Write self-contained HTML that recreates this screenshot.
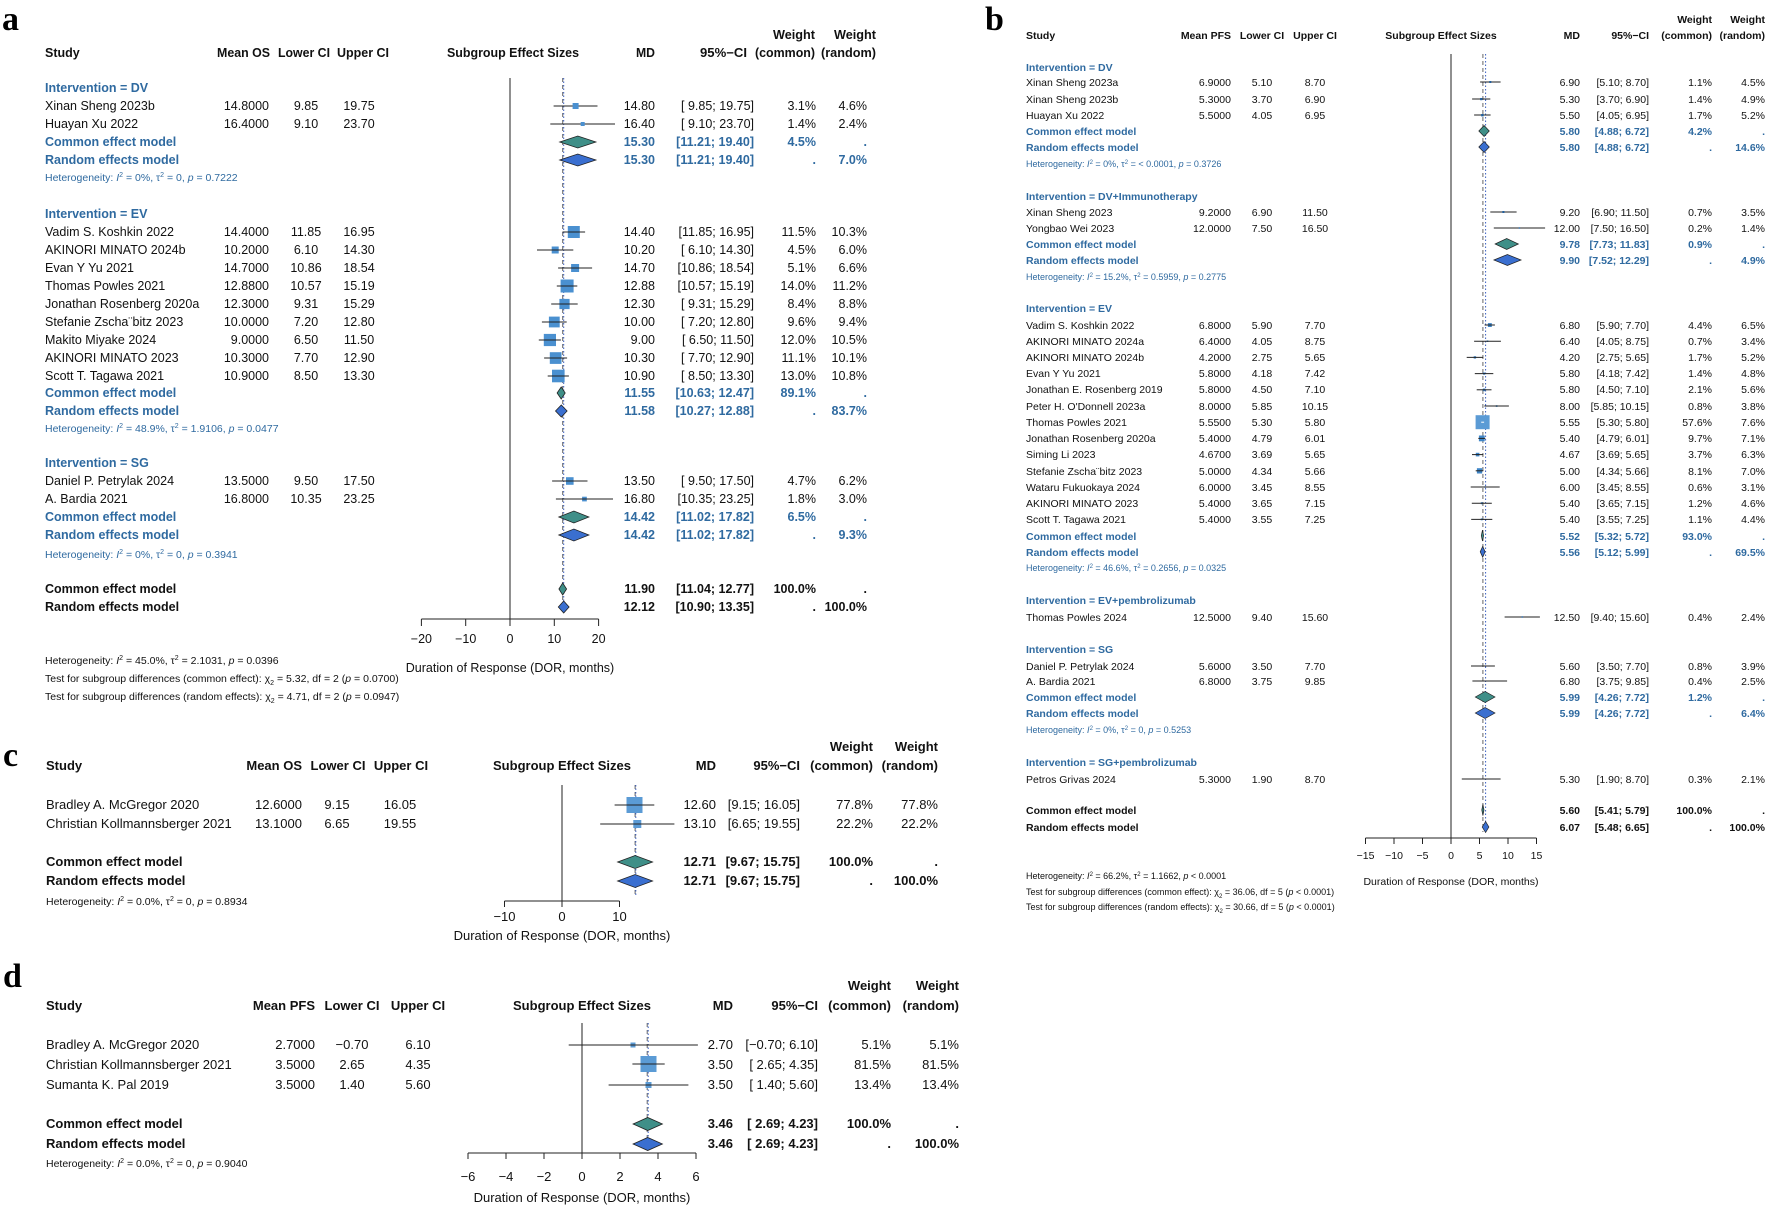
<!DOCTYPE html>
<html><head><meta charset="utf-8">
<style>
html,body{margin:0;padding:0;background:#fff;}
svg{display:block;font-family:"Liberation Sans",Arial,sans-serif;}
.a{font-size:12.5px;fill:#111;}
.b{font-size:10.5px;fill:#111;}
.c{font-size:13px;fill:#111;}
.bl{fill:#2f6aa0;}
.bo{font-weight:bold;}
.hs{font-size:10.5px;fill:#2f6aa0;}
.hsb{font-size:9px;fill:#2f6aa0;}
.hk{font-size:10.5px;fill:#111;}
.hkb{font-size:9px;fill:#111;}
.e{text-anchor:end;}
.m{text-anchor:middle;}
.L{font-family:"Liberation Serif",serif;font-weight:bold;font-size:34px;fill:#000;}
</style></head><body>
<svg width="1772" height="1211" viewBox="0 0 1772 1211" xmlns="http://www.w3.org/2000/svg">
<rect width="1772" height="1211" fill="#fff"/>

<!-- ================= PANEL A ================= -->
<text class="L" x="2" y="30">a</text>
<g class="a bo">
<text x="45" y="57">Study</text>
<text x="217" y="57" textLength="53" lengthAdjust="spacingAndGlyphs">Mean OS</text>
<text x="278" y="57" textLength="52" lengthAdjust="spacingAndGlyphs">Lower CI</text>
<text x="337" y="57" textLength="52" lengthAdjust="spacingAndGlyphs">Upper CI</text>
<text x="447" y="57" textLength="132" lengthAdjust="spacingAndGlyphs">Subgroup Effect Sizes</text>
<text x="636" y="57" textLength="19" lengthAdjust="spacingAndGlyphs">MD</text>
<text x="700" y="57" textLength="47" lengthAdjust="spacingAndGlyphs">95%−CI</text>
<text x="773" y="39" textLength="42" lengthAdjust="spacingAndGlyphs">Weight</text><text x="755" y="57" textLength="60" lengthAdjust="spacingAndGlyphs">(common)</text>
<text x="834" y="39" textLength="42" lengthAdjust="spacingAndGlyphs">Weight</text><text x="821" y="57" textLength="55" lengthAdjust="spacingAndGlyphs">(random)</text>
</g>
<!-- axes a -->
<line x1="510" y1="78" x2="510" y2="619" stroke="#222" stroke-width="1"/>
<line x1="562.7" y1="78" x2="562.7" y2="612" stroke="#666" stroke-width="1" stroke-dasharray="4,3"/>
<line x1="563.7" y1="78" x2="563.7" y2="612" stroke="#3b5fc0" stroke-width="1" stroke-dasharray="1.5,2"/>
<line x1="421.4" y1="619" x2="598.6" y2="619" stroke="#222"/>
<g stroke="#222"><line x1="421.4" y1="619" x2="421.4" y2="626"/><line x1="465.7" y1="619" x2="465.7" y2="626"/><line x1="510" y1="619" x2="510" y2="626"/><line x1="554.3" y1="619" x2="554.3" y2="626"/><line x1="598.6" y1="619" x2="598.6" y2="626"/></g>
<g class="a m"><text x="421.4" y="643">−20</text><text x="465.7" y="643">−10</text><text x="510" y="643">0</text><text x="554.3" y="643">10</text><text x="598.6" y="643">20</text></g>
<text class="a m" x="510" y="672">Duration of Response (DOR, months)</text>

<!-- DV -->
<text class="a bl bo" x="45" y="92">Intervention = DV</text>
<g class="a">
<text x="45" y="110">Xinan Sheng 2023b</text><text class="e" x="269" y="110">14.8000</text><text class="m" x="306" y="110">9.85</text><text class="m" x="359" y="110">19.75</text><text class="e" x="655" y="110">14.80</text><text class="e" x="754" y="110">[ 9.85; 19.75]</text><text class="e" x="816" y="110">3.1%</text><text class="e" x="867" y="110">4.6%</text>
<text x="45" y="128">Huayan Xu 2022</text><text class="e" x="269" y="128">16.4000</text><text class="m" x="306" y="128">9.10</text><text class="m" x="359" y="128">23.70</text><text class="e" x="655" y="128">16.40</text><text class="e" x="754" y="128">[ 9.10; 23.70]</text><text class="e" x="816" y="128">1.4%</text><text class="e" x="867" y="128">2.4%</text>
</g>
<g class="a bl bo">
<text x="45" y="146">Common effect model</text><text class="e" x="655" y="146">15.30</text><text class="e" x="754" y="146">[11.21; 19.40]</text><text class="e" x="816" y="146">4.5%</text><text class="e" x="867" y="146">.</text>
<text x="45" y="164">Random effects model</text><text class="e" x="655" y="164">15.30</text><text class="e" x="754" y="164">[11.21; 19.40]</text><text class="e" x="816" y="164">.</text><text class="e" x="867" y="164">7.0%</text>
</g>
<text class="hs" x="45" y="181">Heterogeneity: <tspan font-style="italic">I</tspan><tspan dy="-4" font-size="7">2</tspan><tspan dy="4"> = 0%, τ</tspan><tspan dy="-4" font-size="7">2</tspan><tspan dy="4"> = 0, </tspan><tspan font-style="italic">p</tspan> = 0.7222</text>
<g stroke="#222">
<line x1="553.6" y1="106" x2="597.5" y2="106"/><rect x="572.6" y="103" width="6" height="6" fill="#4a90d0" stroke="none"/>
<line x1="550.3" y1="124" x2="615" y2="124"/><rect x="580.7" y="122" width="4" height="4" fill="#4a90d0" stroke="none"/>
</g>
<polygon points="559.7,142 577.8,136 595.9,142 577.8,148" fill="#3f8f88" stroke="#222" stroke-width=".8"/>
<polygon points="559.7,160 577.8,154 595.9,160 577.8,166" fill="#3a6fd0" stroke="#222" stroke-width=".8"/>

<!-- EV -->
<text class="a bl bo" x="45" y="218">Intervention = EV</text>
<g class="a">
<text x="45" y="236">Vadim S. Koshkin 2022</text><text class="e" x="269" y="236">14.4000</text><text class="m" x="306" y="236">11.85</text><text class="m" x="359" y="236">16.95</text><text class="e" x="655" y="236">14.40</text><text class="e" x="754" y="236">[11.85; 16.95]</text><text class="e" x="816" y="236">11.5%</text><text class="e" x="867" y="236">10.3%</text>
<text x="45" y="254">AKINORI MINATO 2024b</text><text class="e" x="269" y="254">10.2000</text><text class="m" x="306" y="254">6.10</text><text class="m" x="359" y="254">14.30</text><text class="e" x="655" y="254">10.20</text><text class="e" x="754" y="254">[ 6.10; 14.30]</text><text class="e" x="816" y="254">4.5%</text><text class="e" x="867" y="254">6.0%</text>
<text x="45" y="272">Evan Y Yu 2021</text><text class="e" x="269" y="272">14.7000</text><text class="m" x="306" y="272">10.86</text><text class="m" x="359" y="272">18.54</text><text class="e" x="655" y="272">14.70</text><text class="e" x="754" y="272">[10.86; 18.54]</text><text class="e" x="816" y="272">5.1%</text><text class="e" x="867" y="272">6.6%</text>
<text x="45" y="290">Thomas Powles 2021</text><text class="e" x="269" y="290">12.8800</text><text class="m" x="306" y="290">10.57</text><text class="m" x="359" y="290">15.19</text><text class="e" x="655" y="290">12.88</text><text class="e" x="754" y="290">[10.57; 15.19]</text><text class="e" x="816" y="290">14.0%</text><text class="e" x="867" y="290">11.2%</text>
<text x="45" y="308">Jonathan Rosenberg 2020a</text><text class="e" x="269" y="308">12.3000</text><text class="m" x="306" y="308">9.31</text><text class="m" x="359" y="308">15.29</text><text class="e" x="655" y="308">12.30</text><text class="e" x="754" y="308">[ 9.31; 15.29]</text><text class="e" x="816" y="308">8.4%</text><text class="e" x="867" y="308">8.8%</text>
<text x="45" y="326">Stefanie Zscha¨bitz 2023</text><text class="e" x="269" y="326">10.0000</text><text class="m" x="306" y="326">7.20</text><text class="m" x="359" y="326">12.80</text><text class="e" x="655" y="326">10.00</text><text class="e" x="754" y="326">[ 7.20; 12.80]</text><text class="e" x="816" y="326">9.6%</text><text class="e" x="867" y="326">9.4%</text>
<text x="45" y="344">Makito Miyake 2024</text><text class="e" x="269" y="344">9.0000</text><text class="m" x="306" y="344">6.50</text><text class="m" x="359" y="344">11.50</text><text class="e" x="655" y="344">9.00</text><text class="e" x="754" y="344">[ 6.50; 11.50]</text><text class="e" x="816" y="344">12.0%</text><text class="e" x="867" y="344">10.5%</text>
<text x="45" y="362">AKINORI MINATO 2023</text><text class="e" x="269" y="362">10.3000</text><text class="m" x="306" y="362">7.70</text><text class="m" x="359" y="362">12.90</text><text class="e" x="655" y="362">10.30</text><text class="e" x="754" y="362">[ 7.70; 12.90]</text><text class="e" x="816" y="362">11.1%</text><text class="e" x="867" y="362">10.1%</text>
<text x="45" y="380">Scott T. Tagawa 2021</text><text class="e" x="269" y="380">10.9000</text><text class="m" x="306" y="380">8.50</text><text class="m" x="359" y="380">13.30</text><text class="e" x="655" y="380">10.90</text><text class="e" x="754" y="380">[ 8.50; 13.30]</text><text class="e" x="816" y="380">13.0%</text><text class="e" x="867" y="380">10.8%</text>
</g>
<g class="a bl bo">
<text x="45" y="397">Common effect model</text><text class="e" x="655" y="397">11.55</text><text class="e" x="754" y="397">[10.63; 12.47]</text><text class="e" x="816" y="397">89.1%</text><text class="e" x="867" y="397">.</text>
<text x="45" y="415">Random effects model</text><text class="e" x="655" y="415">11.58</text><text class="e" x="754" y="415">[10.27; 12.88]</text><text class="e" x="816" y="415">.</text><text class="e" x="867" y="415">83.7%</text>
</g>
<text class="hs" x="45" y="432">Heterogeneity: <tspan font-style="italic">I</tspan><tspan dy="-4" font-size="7">2</tspan><tspan dy="4"> = 48.9%, τ</tspan><tspan dy="-4" font-size="7">2</tspan><tspan dy="4"> = 1.9106, </tspan><tspan font-style="italic">p</tspan> = 0.0477</text>
<g fill="#4a90d0">
<rect x="567.8" y="226" width="12" height="12"/>
<rect x="551.7" y="246.5" width="7" height="7"/>
<rect x="571.1" y="264" width="8" height="8"/>
<rect x="560.6" y="279.5" width="13" height="13"/>
<rect x="559.4" y="298.9" width="10.2" height="10.2"/>
<rect x="548.9" y="316.6" width="10.8" height="10.8"/>
<rect x="543.8" y="333.9" width="12.2" height="12.2"/>
<rect x="549.8" y="352.2" width="11.7" height="11.7"/>
<rect x="552" y="369.7" width="12.6" height="12.6"/>
</g>
<g stroke="#222">
<line x1="562.5" y1="232" x2="585.1" y2="232"/>
<line x1="537" y1="250" x2="573.3" y2="250"/>
<line x1="558.1" y1="268" x2="592.1" y2="268"/>
<line x1="556.8" y1="286" x2="577.3" y2="286"/>
<line x1="551.2" y1="304" x2="577.7" y2="304"/>
<line x1="541.9" y1="322" x2="566.7" y2="322"/>
<line x1="538.8" y1="340" x2="560.9" y2="340"/>
<line x1="544.1" y1="358" x2="567.1" y2="358"/>
<line x1="547.7" y1="376" x2="568.9" y2="376"/>
</g>
<polygon points="557.1,393 561.2,387 565.2,393 561.2,399" fill="#3f8f88" stroke="#222" stroke-width=".8"/>
<polygon points="555.5,411 561.3,405 567.1,411 561.3,417" fill="#3a6fd0" stroke="#222" stroke-width=".8"/>

<!-- SG -->
<text class="a bl bo" x="45" y="467">Intervention = SG</text>
<g class="a">
<text x="45" y="485">Daniel P. Petrylak 2024</text><text class="e" x="269" y="485">13.5000</text><text class="m" x="306" y="485">9.50</text><text class="m" x="359" y="485">17.50</text><text class="e" x="655" y="485">13.50</text><text class="e" x="754" y="485">[ 9.50; 17.50]</text><text class="e" x="816" y="485">4.7%</text><text class="e" x="867" y="485">6.2%</text>
<text x="45" y="503">A. Bardia 2021</text><text class="e" x="269" y="503">16.8000</text><text class="m" x="306" y="503">10.35</text><text class="m" x="359" y="503">23.25</text><text class="e" x="655" y="503">16.80</text><text class="e" x="754" y="503">[10.35; 23.25]</text><text class="e" x="816" y="503">1.8%</text><text class="e" x="867" y="503">3.0%</text>
</g>
<g class="a bl bo">
<text x="45" y="521">Common effect model</text><text class="e" x="655" y="521">14.42</text><text class="e" x="754" y="521">[11.02; 17.82]</text><text class="e" x="816" y="521">6.5%</text><text class="e" x="867" y="521">.</text>
<text x="45" y="539">Random effects model</text><text class="e" x="655" y="539">14.42</text><text class="e" x="754" y="539">[11.02; 17.82]</text><text class="e" x="816" y="539">.</text><text class="e" x="867" y="539">9.3%</text>
</g>
<text class="hs" x="45" y="558">Heterogeneity: <tspan font-style="italic">I</tspan><tspan dy="-4" font-size="7">2</tspan><tspan dy="4"> = 0%, τ</tspan><tspan dy="-4" font-size="7">2</tspan><tspan dy="4"> = 0, </tspan><tspan font-style="italic">p</tspan> = 0.3941</text>
<rect x="566" y="477.2" width="7.6" height="7.6" fill="#4a90d0"/>
<rect x="582.1" y="496.7" width="4.7" height="4.7" fill="#4a90d0"/>
<g stroke="#222"><line x1="552.1" y1="481" x2="587.5" y2="481"/><line x1="555.9" y1="499" x2="613" y2="499"/></g>
<polygon points="558.8,517 573.9,511 588.9,517 573.9,523" fill="#3f8f88" stroke="#222" stroke-width=".8"/>
<polygon points="558.8,535 573.9,529 588.9,535 573.9,541" fill="#3a6fd0" stroke="#222" stroke-width=".8"/>

<!-- overall a -->
<g class="a bo">
<text x="45" y="593">Common effect model</text><text class="e" x="655" y="593">11.90</text><text class="e" x="754" y="593">[11.04; 12.77]</text><text class="e" x="816" y="593">100.0%</text><text class="e" x="867" y="593">.</text>
<text x="45" y="611">Random effects model</text><text class="e" x="655" y="611">12.12</text><text class="e" x="754" y="611">[10.90; 13.35]</text><text class="e" x="816" y="611">.</text><text class="e" x="867" y="611">100.0%</text>
</g>
<polygon points="558.9,589 562.7,583 566.6,589 562.7,595" fill="#3f8f88" stroke="#222" stroke-width=".8"/>
<polygon points="558.3,607 563.7,601 569.1,607 563.7,613" fill="#3a6fd0" stroke="#222" stroke-width=".8"/>
<text class="hk" x="45" y="664">Heterogeneity: <tspan font-style="italic">I</tspan><tspan dy="-4" font-size="7">2</tspan><tspan dy="4"> = 45.0%, τ</tspan><tspan dy="-4" font-size="7">2</tspan><tspan dy="4"> = 2.1031, </tspan><tspan font-style="italic">p</tspan> = 0.0396</text>
<text class="hk" x="45" y="682">Test for subgroup differences (common effect): χ<tspan dy="3" font-size="7">2</tspan><tspan dy="-3"> = 5.32, df = 2 (</tspan><tspan font-style="italic">p</tspan> = 0.0700)</text>
<text class="hk" x="45" y="700">Test for subgroup differences (random effects): χ<tspan dy="3" font-size="7">2</tspan><tspan dy="-3"> = 4.71, df = 2 (</tspan><tspan font-style="italic">p</tspan> = 0.0947)</text>

<!-- ================= PANEL B ================= -->
<text class="L" x="985" y="30">b</text>
<g class="b bo">
<text x="1026" y="39">Study</text>
<text class="e" x="1231" y="39">Mean PFS</text>
<text class="m" x="1262" y="39">Lower CI</text>
<text class="m" x="1315" y="39">Upper CI</text>
<text class="m" x="1441" y="39">Subgroup Effect Sizes</text>
<text class="e" x="1580" y="39">MD</text>
<text class="e" x="1649" y="39">95%−CI</text>
<text class="e" x="1712" y="23">Weight</text><text class="e" x="1712" y="39">(common)</text>
<text class="e" x="1765" y="23">Weight</text><text class="e" x="1765" y="39">(random)</text>
</g>
<line x1="1451" y1="54" x2="1451" y2="838" stroke="#222"/>
<line x1="1482.9" y1="54" x2="1482.9" y2="832" stroke="#666" stroke-dasharray="4,3"/>
<line x1="1485.6" y1="54" x2="1485.6" y2="832" stroke="#3b5fc0" stroke-dasharray="1.5,2"/>
<line x1="1365.5" y1="838" x2="1536.5" y2="838" stroke="#222"/>
<g stroke="#222"><line x1="1365.5" y1="838" x2="1365.5" y2="844"/><line x1="1394" y1="838" x2="1394" y2="844"/><line x1="1422.5" y1="838" x2="1422.5" y2="844"/><line x1="1451" y1="838" x2="1451" y2="844"/><line x1="1479.5" y1="838" x2="1479.5" y2="844"/><line x1="1508" y1="838" x2="1508" y2="844"/><line x1="1536.5" y1="838" x2="1536.5" y2="844"/></g>
<g class="b m"><text x="1365.5" y="859">−15</text><text x="1394" y="859">−10</text><text x="1422.5" y="859">−5</text><text x="1451" y="859">0</text><text x="1479.5" y="859">5</text><text x="1508" y="859">10</text><text x="1536.5" y="859">15</text></g>
<text class="b m" x="1451" y="885">Duration of Response (DOR, months)</text>

<!-- DV -->
<text class="b bl bo" x="1026" y="71">Intervention = DV</text>
<g class="b">
<text x="1026" y="86">Xinan Sheng 2023a</text><text class="e" x="1231" y="86">6.9000</text><text class="m" x="1262" y="86">5.10</text><text class="m" x="1315" y="86">8.70</text><text class="e" x="1580" y="86">6.90</text><text class="e" x="1649" y="86">[5.10;  8.70]</text><text class="e" x="1712" y="86">1.1%</text><text class="e" x="1765" y="86">4.5%</text>
<text x="1026" y="103">Xinan Sheng 2023b</text><text class="e" x="1231" y="103">5.3000</text><text class="m" x="1262" y="103">3.70</text><text class="m" x="1315" y="103">6.90</text><text class="e" x="1580" y="103">5.30</text><text class="e" x="1649" y="103">[3.70;  6.90]</text><text class="e" x="1712" y="103">1.4%</text><text class="e" x="1765" y="103">4.9%</text>
<text x="1026" y="119">Huayan Xu 2022</text><text class="e" x="1231" y="119">5.5000</text><text class="m" x="1262" y="119">4.05</text><text class="m" x="1315" y="119">6.95</text><text class="e" x="1580" y="119">5.50</text><text class="e" x="1649" y="119">[4.05;  6.95]</text><text class="e" x="1712" y="119">1.7%</text><text class="e" x="1765" y="119">5.2%</text>
</g>
<g class="b bl bo">
<text x="1026" y="135">Common effect model</text><text class="e" x="1580" y="135">5.80</text><text class="e" x="1649" y="135">[4.88;  6.72]</text><text class="e" x="1712" y="135">4.2%</text><text class="e" x="1765" y="135">.</text>
<text x="1026" y="151">Random effects model</text><text class="e" x="1580" y="151">5.80</text><text class="e" x="1649" y="151">[4.88;  6.72]</text><text class="e" x="1712" y="151">.</text><text class="e" x="1765" y="151">14.6%</text>
</g>
<text class="hsb" x="1026" y="167">Heterogeneity: <tspan font-style="italic">I</tspan><tspan dy="-3" font-size="6">2</tspan><tspan dy="3"> = 0%, τ</tspan><tspan dy="-3" font-size="6">2</tspan><tspan dy="3"> = &lt; 0.0001, </tspan><tspan font-style="italic">p</tspan> = 0.3726</text>
<g stroke="#222">
<line x1="1480.1" y1="82" x2="1500.6" y2="82"/><line x1="1472.1" y1="99" x2="1490.3" y2="99"/><line x1="1474.1" y1="115" x2="1490.6" y2="115"/>
</g>
<g fill="#1f5fa0"><rect x="1489.3" y="81" width="2" height="2"/><rect x="1480.1" y="98" width="2.2" height="2.2"/><rect x="1481.2" y="114" width="2.4" height="2.4"/></g>
<polygon points="1478.8,131 1484.1,125.5 1489.3,131 1484.1,136.5" fill="#3f8f88" stroke="#222" stroke-width=".7"/>
<polygon points="1478.8,147 1484.1,141.5 1489.3,147 1484.1,152.5" fill="#3a6fd0" stroke="#222" stroke-width=".7"/>

<!-- DV+Immuno -->
<text class="b bl bo" x="1026" y="200">Intervention = DV+Immunotherapy</text>
<g class="b">
<text x="1026" y="216">Xinan Sheng 2023</text><text class="e" x="1231" y="216">9.2000</text><text class="m" x="1262" y="216">6.90</text><text class="m" x="1315" y="216">11.50</text><text class="e" x="1580" y="216">9.20</text><text class="e" x="1649" y="216">[6.90; 11.50]</text><text class="e" x="1712" y="216">0.7%</text><text class="e" x="1765" y="216">3.5%</text>
<text x="1026" y="232">Yongbao Wei 2023</text><text class="e" x="1231" y="232">12.0000</text><text class="m" x="1262" y="232">7.50</text><text class="m" x="1315" y="232">16.50</text><text class="e" x="1580" y="232">12.00</text><text class="e" x="1649" y="232">[7.50; 16.50]</text><text class="e" x="1712" y="232">0.2%</text><text class="e" x="1765" y="232">1.4%</text>
</g>
<g class="b bl bo">
<text x="1026" y="248">Common effect model</text><text class="e" x="1580" y="248">9.78</text><text class="e" x="1649" y="248">[7.73; 11.83]</text><text class="e" x="1712" y="248">0.9%</text><text class="e" x="1765" y="248">.</text>
<text x="1026" y="264">Random effects model</text><text class="e" x="1580" y="264">9.90</text><text class="e" x="1649" y="264">[7.52; 12.29]</text><text class="e" x="1712" y="264">.</text><text class="e" x="1765" y="264">4.9%</text>
</g>
<text class="hsb" x="1026" y="280">Heterogeneity: <tspan font-style="italic">I</tspan><tspan dy="-3" font-size="6">2</tspan><tspan dy="3"> = 15.2%, τ</tspan><tspan dy="-3" font-size="6">2</tspan><tspan dy="3"> = 0.5959, </tspan><tspan font-style="italic">p</tspan> = 0.2775</text>
<g stroke="#222"><line x1="1490.3" y1="212" x2="1516.6" y2="212"/><line x1="1493.8" y1="228" x2="1545.1" y2="228"/></g>
<g fill="#1f5fa0"><rect x="1502.4" y="211" width="2" height="2"/><rect x="1518.7" y="227.3" width="1.4" height="1.4"/></g>
<polygon points="1495.1,244 1506.7,238.5 1518.4,244 1506.7,249.5" fill="#3f8f88" stroke="#222" stroke-width=".7"/>
<polygon points="1493.9,260 1507.4,254.5 1521.1,260 1507.4,265.5" fill="#3a6fd0" stroke="#222" stroke-width=".7"/>

<!-- EV -->
<text class="b bl bo" x="1026" y="312">Intervention = EV</text>
<g class="b">
<text x="1026" y="329">Vadim S. Koshkin 2022</text><text class="e" x="1231" y="329">6.8000</text><text class="m" x="1262" y="329">5.90</text><text class="m" x="1315" y="329">7.70</text><text class="e" x="1580" y="329">6.80</text><text class="e" x="1649" y="329">[5.90;  7.70]</text><text class="e" x="1712" y="329">4.4%</text><text class="e" x="1765" y="329">6.5%</text>
<text x="1026" y="345">AKINORI MINATO 2024a</text><text class="e" x="1231" y="345">6.4000</text><text class="m" x="1262" y="345">4.05</text><text class="m" x="1315" y="345">8.75</text><text class="e" x="1580" y="345">6.40</text><text class="e" x="1649" y="345">[4.05;  8.75]</text><text class="e" x="1712" y="345">0.7%</text><text class="e" x="1765" y="345">3.4%</text>
<text x="1026" y="361">AKINORI MINATO 2024b</text><text class="e" x="1231" y="361">4.2000</text><text class="m" x="1262" y="361">2.75</text><text class="m" x="1315" y="361">5.65</text><text class="e" x="1580" y="361">4.20</text><text class="e" x="1649" y="361">[2.75;  5.65]</text><text class="e" x="1712" y="361">1.7%</text><text class="e" x="1765" y="361">5.2%</text>
<text x="1026" y="377">Evan Y Yu 2021</text><text class="e" x="1231" y="377">5.8000</text><text class="m" x="1262" y="377">4.18</text><text class="m" x="1315" y="377">7.42</text><text class="e" x="1580" y="377">5.80</text><text class="e" x="1649" y="377">[4.18;  7.42]</text><text class="e" x="1712" y="377">1.4%</text><text class="e" x="1765" y="377">4.8%</text>
<text x="1026" y="393">Jonathan E. Rosenberg 2019</text><text class="e" x="1231" y="393">5.8000</text><text class="m" x="1262" y="393">4.50</text><text class="m" x="1315" y="393">7.10</text><text class="e" x="1580" y="393">5.80</text><text class="e" x="1649" y="393">[4.50;  7.10]</text><text class="e" x="1712" y="393">2.1%</text><text class="e" x="1765" y="393">5.6%</text>
<text x="1026" y="410">Peter H. O'Donnell 2023a</text><text class="e" x="1231" y="410">8.0000</text><text class="m" x="1262" y="410">5.85</text><text class="m" x="1315" y="410">10.15</text><text class="e" x="1580" y="410">8.00</text><text class="e" x="1649" y="410">[5.85; 10.15]</text><text class="e" x="1712" y="410">0.8%</text><text class="e" x="1765" y="410">3.8%</text>
<text x="1026" y="426">Thomas Powles 2021</text><text class="e" x="1231" y="426">5.5500</text><text class="m" x="1262" y="426">5.30</text><text class="m" x="1315" y="426">5.80</text><text class="e" x="1580" y="426">5.55</text><text class="e" x="1649" y="426">[5.30;  5.80]</text><text class="e" x="1712" y="426">57.6%</text><text class="e" x="1765" y="426">7.6%</text>
<text x="1026" y="442">Jonathan Rosenberg 2020a</text><text class="e" x="1231" y="442">5.4000</text><text class="m" x="1262" y="442">4.79</text><text class="m" x="1315" y="442">6.01</text><text class="e" x="1580" y="442">5.40</text><text class="e" x="1649" y="442">[4.79;  6.01]</text><text class="e" x="1712" y="442">9.7%</text><text class="e" x="1765" y="442">7.1%</text>
<text x="1026" y="458">Siming Li 2023</text><text class="e" x="1231" y="458">4.6700</text><text class="m" x="1262" y="458">3.69</text><text class="m" x="1315" y="458">5.65</text><text class="e" x="1580" y="458">4.67</text><text class="e" x="1649" y="458">[3.69;  5.65]</text><text class="e" x="1712" y="458">3.7%</text><text class="e" x="1765" y="458">6.3%</text>
<text x="1026" y="475">Stefanie Zscha¨bitz 2023</text><text class="e" x="1231" y="475">5.0000</text><text class="m" x="1262" y="475">4.34</text><text class="m" x="1315" y="475">5.66</text><text class="e" x="1580" y="475">5.00</text><text class="e" x="1649" y="475">[4.34;  5.66]</text><text class="e" x="1712" y="475">8.1%</text><text class="e" x="1765" y="475">7.0%</text>
<text x="1026" y="491">Wataru Fukuokaya 2024</text><text class="e" x="1231" y="491">6.0000</text><text class="m" x="1262" y="491">3.45</text><text class="m" x="1315" y="491">8.55</text><text class="e" x="1580" y="491">6.00</text><text class="e" x="1649" y="491">[3.45;  8.55]</text><text class="e" x="1712" y="491">0.6%</text><text class="e" x="1765" y="491">3.1%</text>
<text x="1026" y="507">AKINORI MINATO 2023</text><text class="e" x="1231" y="507">5.4000</text><text class="m" x="1262" y="507">3.65</text><text class="m" x="1315" y="507">7.15</text><text class="e" x="1580" y="507">5.40</text><text class="e" x="1649" y="507">[3.65;  7.15]</text><text class="e" x="1712" y="507">1.2%</text><text class="e" x="1765" y="507">4.6%</text>
<text x="1026" y="523">Scott T. Tagawa 2021</text><text class="e" x="1231" y="523">5.4000</text><text class="m" x="1262" y="523">3.55</text><text class="m" x="1315" y="523">7.25</text><text class="e" x="1580" y="523">5.40</text><text class="e" x="1649" y="523">[3.55;  7.25]</text><text class="e" x="1712" y="523">1.1%</text><text class="e" x="1765" y="523">4.4%</text>
</g>
<g class="b bl bo">
<text x="1026" y="540">Common effect model</text><text class="e" x="1580" y="540">5.52</text><text class="e" x="1649" y="540">[5.32;  5.72]</text><text class="e" x="1712" y="540">93.0%</text><text class="e" x="1765" y="540">.</text>
<text x="1026" y="556">Random effects model</text><text class="e" x="1580" y="556">5.56</text><text class="e" x="1649" y="556">[5.12;  5.99]</text><text class="e" x="1712" y="556">.</text><text class="e" x="1765" y="556">69.5%</text>
</g>
<text class="hsb" x="1026" y="571">Heterogeneity: <tspan font-style="italic">I</tspan><tspan dy="-3" font-size="6">2</tspan><tspan dy="3"> = 46.6%, τ</tspan><tspan dy="-3" font-size="6">2</tspan><tspan dy="3"> = 0.2656, </tspan><tspan font-style="italic">p</tspan> = 0.0325</text>
<g fill="#3f86c8">
<rect x="1487.9" y="323.1" width="3.9" height="3.9"/>
<rect x="1486.7" y="340.4" width="1.6" height="1.6"/>
<rect x="1473.7" y="356.2" width="2.4" height="2.4"/>
<rect x="1483" y="372.5" width="2.2" height="2.2"/>
<rect x="1482.8" y="388.5" width="2.7" height="2.7"/>
<rect x="1495.8" y="405.2" width="1.7" height="1.7"/>
<rect x="1475.6" y="415.2" width="14" height="14" fill="#5b9bd5"/>
<rect x="1478.9" y="435.5" width="5.8" height="5.8"/>
<rect x="1475.8" y="452.8" width="3.6" height="3.6"/>
<rect x="1476.9" y="468.2" width="5.3" height="5.3"/>
<rect x="1484.5" y="486.3" width="1.4" height="1.4"/>
<rect x="1480.8" y="502.2" width="2" height="2"/>
<rect x="1480.8" y="518.4" width="1.9" height="1.9"/>
</g>
<g stroke="#222">
<line x1="1484.6" y1="325" x2="1494.9" y2="325"/>
<line x1="1474.1" y1="341.2" x2="1500.9" y2="341.2"/>
<line x1="1466.7" y1="357.4" x2="1483.2" y2="357.4"/>
<line x1="1474.8" y1="373.6" x2="1493.3" y2="373.6"/>
<line x1="1476.7" y1="389.8" x2="1491.5" y2="389.8"/>
<line x1="1484.3" y1="406" x2="1508.9" y2="406"/>
<line x1="1481.2" y1="422.2" x2="1484.1" y2="422.2" stroke="#fff"/>
<line x1="1478.3" y1="438.4" x2="1485.3" y2="438.4"/>
<line x1="1472" y1="454.6" x2="1483.2" y2="454.6"/>
<line x1="1475.7" y1="470.8" x2="1483.3" y2="470.8"/>
<line x1="1470.7" y1="487" x2="1499.7" y2="487"/>
<line x1="1471.8" y1="503.2" x2="1491.8" y2="503.2"/>
<line x1="1471.2" y1="519.4" x2="1492.3" y2="519.4"/>
</g>
<polygon points="1481.3,535.6 1482.5,530.1 1483.6,535.6 1482.5,541.1" fill="#3f8f88" stroke="#222" stroke-width=".7"/>
<polygon points="1480.2,551.8 1482.7,546.3 1485.1,551.8 1482.7,557.3" fill="#3a6fd0" stroke="#222" stroke-width=".7"/>

<!-- EV+pembro -->
<text class="b bl bo" x="1026" y="604">Intervention = EV+pembrolizumab</text>
<g class="b">
<text x="1026" y="621">Thomas Powles 2024</text><text class="e" x="1231" y="621">12.5000</text><text class="m" x="1262" y="621">9.40</text><text class="m" x="1315" y="621">15.60</text><text class="e" x="1580" y="621">12.50</text><text class="e" x="1649" y="621">[9.40; 15.60]</text><text class="e" x="1712" y="621">0.4%</text><text class="e" x="1765" y="621">2.4%</text>
</g>
<line x1="1504.6" y1="617" x2="1539.9" y2="617" stroke="#222"/><rect x="1521.6" y="616.3" width="1.4" height="1.4" fill="#1f5fa0"/>

<!-- SG -->
<text class="b bl bo" x="1026" y="653">Intervention = SG</text>
<g class="b">
<text x="1026" y="670">Daniel P. Petrylak 2024</text><text class="e" x="1231" y="670">5.6000</text><text class="m" x="1262" y="670">3.50</text><text class="m" x="1315" y="670">7.70</text><text class="e" x="1580" y="670">5.60</text><text class="e" x="1649" y="670">[3.50;  7.70]</text><text class="e" x="1712" y="670">0.8%</text><text class="e" x="1765" y="670">3.9%</text>
<text x="1026" y="685">A. Bardia 2021</text><text class="e" x="1231" y="685">6.8000</text><text class="m" x="1262" y="685">3.75</text><text class="m" x="1315" y="685">9.85</text><text class="e" x="1580" y="685">6.80</text><text class="e" x="1649" y="685">[3.75;  9.85]</text><text class="e" x="1712" y="685">0.4%</text><text class="e" x="1765" y="685">2.5%</text>
</g>
<g class="b bl bo">
<text x="1026" y="701">Common effect model</text><text class="e" x="1580" y="701">5.99</text><text class="e" x="1649" y="701">[4.26;  7.72]</text><text class="e" x="1712" y="701">1.2%</text><text class="e" x="1765" y="701">.</text>
<text x="1026" y="717">Random effects model</text><text class="e" x="1580" y="717">5.99</text><text class="e" x="1649" y="717">[4.26;  7.72]</text><text class="e" x="1712" y="717">.</text><text class="e" x="1765" y="717">6.4%</text>
</g>
<text class="hsb" x="1026" y="733">Heterogeneity: <tspan font-style="italic">I</tspan><tspan dy="-3" font-size="6">2</tspan><tspan dy="3"> = 0%, τ</tspan><tspan dy="-3" font-size="6">2</tspan><tspan dy="3"> = 0, </tspan><tspan font-style="italic">p</tspan> = 0.5253</text>
<g stroke="#222"><line x1="1471" y1="666" x2="1494.9" y2="666"/><line x1="1472.4" y1="681" x2="1507.1" y2="681"/></g>
<polygon points="1475.3,697 1485.1,691.5 1495,697 1485.1,702.5" fill="#3f8f88" stroke="#222" stroke-width=".7"/>
<polygon points="1475.3,713 1485.1,707.5 1495,713 1485.1,718.5" fill="#3a6fd0" stroke="#222" stroke-width=".7"/>

<!-- SG+pembro -->
<text class="b bl bo" x="1026" y="766">Intervention = SG+pembrolizumab</text>
<g class="b">
<text x="1026" y="783">Petros Grivas 2024</text><text class="e" x="1231" y="783">5.3000</text><text class="m" x="1262" y="783">1.90</text><text class="m" x="1315" y="783">8.70</text><text class="e" x="1580" y="783">5.30</text><text class="e" x="1649" y="783">[1.90;  8.70]</text><text class="e" x="1712" y="783">0.3%</text><text class="e" x="1765" y="783">2.1%</text>
</g>
<line x1="1461.8" y1="779" x2="1500.6" y2="779" stroke="#222"/>

<g class="b bo">
<text x="1026" y="814">Common effect model</text><text class="e" x="1580" y="814">5.60</text><text class="e" x="1649" y="814">[5.41;  5.79]</text><text class="e" x="1712" y="814">100.0%</text><text class="e" x="1765" y="814">.</text>
<text x="1026" y="831">Random effects model</text><text class="e" x="1580" y="831">6.07</text><text class="e" x="1649" y="831">[5.48;  6.65]</text><text class="e" x="1712" y="831">.</text><text class="e" x="1765" y="831">100.0%</text>
</g>
<polygon points="1481.8,810 1482.9,804.5 1484,810 1482.9,815.5" fill="#3f8f88" stroke="#222" stroke-width=".7"/>
<polygon points="1482.2,827 1485.6,821.5 1488.9,827 1485.6,832.5" fill="#3a6fd0" stroke="#222" stroke-width=".7"/>
<text class="hkb" x="1026" y="879">Heterogeneity: <tspan font-style="italic">I</tspan><tspan dy="-3" font-size="6">2</tspan><tspan dy="3"> = 66.2%, τ</tspan><tspan dy="-3" font-size="6">2</tspan><tspan dy="3"> = 1.1662, </tspan><tspan font-style="italic">p</tspan> &lt; 0.0001</text>
<text class="hkb" x="1026" y="895">Test for subgroup differences (common effect): χ<tspan dy="3" font-size="6">2</tspan><tspan dy="-3"> = 36.06, df = 5 (</tspan><tspan font-style="italic">p</tspan> &lt; 0.0001)</text>
<text class="hkb" x="1026" y="910">Test for subgroup differences (random effects): χ<tspan dy="3" font-size="6">2</tspan><tspan dy="-3"> = 30.66, df = 5 (</tspan><tspan font-style="italic">p</tspan> &lt; 0.0001)</text>

<!-- ================= PANEL C ================= -->
<text class="L" x="3" y="766">c</text>
<g class="c bo">
<text x="46" y="770">Study</text>
<text class="e" x="302" y="770">Mean OS</text>
<text class="m" x="338" y="770">Lower CI</text>
<text class="m" x="401" y="770">Upper CI</text>
<text class="m" x="562" y="770">Subgroup Effect Sizes</text>
<text class="e" x="716" y="770">MD</text>
<text class="e" x="800" y="770">95%−CI</text>
<text class="e" x="873" y="751">Weight</text><text class="e" x="873" y="770">(common)</text>
<text class="e" x="938" y="751">Weight</text><text class="e" x="938" y="770">(random)</text>
</g>
<g class="c">
<text x="46" y="809">Bradley A. McGregor 2020</text><text class="e" x="302" y="809">12.6000</text><text class="m" x="337" y="809">9.15</text><text class="m" x="400" y="809">16.05</text><text class="e" x="716" y="809">12.60</text><text class="e" x="800" y="809">[9.15; 16.05]</text><text class="e" x="873" y="809">77.8%</text><text class="e" x="938" y="809">77.8%</text>
<text x="46" y="828">Christian Kollmannsberger 2021</text><text class="e" x="302" y="828">13.1000</text><text class="m" x="337" y="828">6.65</text><text class="m" x="400" y="828">19.55</text><text class="e" x="716" y="828">13.10</text><text class="e" x="800" y="828">[6.65; 19.55]</text><text class="e" x="873" y="828">22.2%</text><text class="e" x="938" y="828">22.2%</text>
</g>
<g class="c bo">
<text x="46" y="866">Common effect model</text><text class="e" x="716" y="866">12.71</text><text class="e" x="800" y="866">[9.67; 15.75]</text><text class="e" x="873" y="866">100.0%</text><text class="e" x="938" y="866">.</text>
<text x="46" y="885">Random effects model</text><text class="e" x="716" y="885">12.71</text><text class="e" x="800" y="885">[9.67; 15.75]</text><text class="e" x="873" y="885">.</text><text class="e" x="938" y="885">100.0%</text>
</g>
<text class="hk" x="46" y="905">Heterogeneity: <tspan font-style="italic">I</tspan><tspan dy="-4" font-size="7">2</tspan><tspan dy="4"> = 0.0%, τ</tspan><tspan dy="-4" font-size="7">2</tspan><tspan dy="4"> = 0, </tspan><tspan font-style="italic">p</tspan> = 0.8934</text>
<line x1="562" y1="785" x2="562" y2="901" stroke="#222"/>
<line x1="635.1" y1="785" x2="635.1" y2="895" stroke="#666" stroke-dasharray="4,3"/>
<line x1="635.8" y1="785" x2="635.8" y2="895" stroke="#3b5fc0" stroke-dasharray="1.5,2"/>
<line x1="504.5" y1="901" x2="619.5" y2="901" stroke="#222"/>
<g stroke="#222"><line x1="504.5" y1="901" x2="504.5" y2="907"/><line x1="562" y1="901" x2="562" y2="907"/><line x1="619.5" y1="901" x2="619.5" y2="907"/></g>
<g class="c m"><text x="504.5" y="921">−10</text><text x="562" y="921">0</text><text x="619.5" y="921">10</text></g>
<text class="c m" x="562" y="940">Duration of Response (DOR, months)</text>
<rect x="626.5" y="797" width="16" height="16" fill="#5b9bd5"/>
<rect x="633.3" y="820" width="8" height="8" fill="#5b9bd5"/>
<g stroke="#222"><line x1="614.6" y1="805" x2="654.3" y2="805"/><line x1="600.2" y1="824" x2="674.4" y2="824"/></g>
<polygon points="617.6,862 635.1,855.5 652.6,862 635.1,868.5" fill="#3f8f88" stroke="#222" stroke-width=".8"/>
<polygon points="617.6,881 635.1,874.5 652.6,881 635.1,887.5" fill="#3a6fd0" stroke="#222" stroke-width=".8"/>

<!-- ================= PANEL D ================= -->
<text class="L" x="3" y="987">d</text>
<g class="c bo">
<text x="46" y="1010">Study</text>
<text class="e" x="315" y="1010">Mean PFS</text>
<text class="m" x="352" y="1010">Lower CI</text>
<text class="m" x="418" y="1010">Upper CI</text>
<text class="m" x="582" y="1010">Subgroup Effect Sizes</text>
<text class="e" x="733" y="1010">MD</text>
<text class="e" x="818" y="1010">95%−CI</text>
<text class="e" x="891" y="990">Weight</text><text class="e" x="891" y="1010">(common)</text>
<text class="e" x="959" y="990">Weight</text><text class="e" x="959" y="1010">(random)</text>
</g>
<g class="c">
<text x="46" y="1049">Bradley A. McGregor 2020</text><text class="e" x="315" y="1049">2.7000</text><text class="m" x="352" y="1049">−0.70</text><text class="m" x="418" y="1049">6.10</text><text class="e" x="733" y="1049">2.70</text><text class="e" x="818" y="1049">[−0.70; 6.10]</text><text class="e" x="891" y="1049">5.1%</text><text class="e" x="959" y="1049">5.1%</text>
<text x="46" y="1069">Christian Kollmannsberger 2021</text><text class="e" x="315" y="1069">3.5000</text><text class="m" x="352" y="1069">2.65</text><text class="m" x="418" y="1069">4.35</text><text class="e" x="733" y="1069">3.50</text><text class="e" x="818" y="1069">[ 2.65; 4.35]</text><text class="e" x="891" y="1069">81.5%</text><text class="e" x="959" y="1069">81.5%</text>
<text x="46" y="1089">Sumanta K. Pal 2019</text><text class="e" x="315" y="1089">3.5000</text><text class="m" x="352" y="1089">1.40</text><text class="m" x="418" y="1089">5.60</text><text class="e" x="733" y="1089">3.50</text><text class="e" x="818" y="1089">[ 1.40; 5.60]</text><text class="e" x="891" y="1089">13.4%</text><text class="e" x="959" y="1089">13.4%</text>
</g>
<g class="c bo">
<text x="46" y="1128">Common effect model</text><text class="e" x="733" y="1128">3.46</text><text class="e" x="818" y="1128">[ 2.69; 4.23]</text><text class="e" x="891" y="1128">100.0%</text><text class="e" x="959" y="1128">.</text>
<text x="46" y="1148">Random effects model</text><text class="e" x="733" y="1148">3.46</text><text class="e" x="818" y="1148">[ 2.69; 4.23]</text><text class="e" x="891" y="1148">.</text><text class="e" x="959" y="1148">100.0%</text>
</g>
<text class="hk" x="46" y="1167">Heterogeneity: <tspan font-style="italic">I</tspan><tspan dy="-4" font-size="7">2</tspan><tspan dy="4"> = 0.0%, τ</tspan><tspan dy="-4" font-size="7">2</tspan><tspan dy="4"> = 0, </tspan><tspan font-style="italic">p</tspan> = 0.9040</text>
<line x1="582" y1="1023" x2="582" y2="1153" stroke="#222"/>
<line x1="647.2" y1="1023" x2="647.2" y2="1147" stroke="#666" stroke-dasharray="4,3"/>
<line x1="648.2" y1="1023" x2="648.2" y2="1147" stroke="#3b5fc0" stroke-dasharray="1.5,2"/>
<line x1="468" y1="1153" x2="696" y2="1153" stroke="#222"/>
<g stroke="#222"><line x1="468" y1="1153" x2="468" y2="1159"/><line x1="506" y1="1153" x2="506" y2="1159"/><line x1="544" y1="1153" x2="544" y2="1159"/><line x1="582" y1="1153" x2="582" y2="1159"/><line x1="620" y1="1153" x2="620" y2="1159"/><line x1="658" y1="1153" x2="658" y2="1159"/><line x1="696" y1="1153" x2="696" y2="1159"/></g>
<g class="c m"><text x="468" y="1181">−6</text><text x="506" y="1181">−4</text><text x="544" y="1181">−2</text><text x="582" y="1181">0</text><text x="620" y="1181">2</text><text x="658" y="1181">4</text><text x="696" y="1181">6</text></g>
<text class="c m" x="582" y="1202">Duration of Response (DOR, months)</text>
<rect x="630.5" y="1042.5" width="5" height="5" fill="#5b9bd5"/>
<rect x="640.5" y="1056" width="16" height="16" fill="#5b9bd5"/>
<rect x="645.5" y="1082" width="6" height="6" fill="#5b9bd5"/>
<g stroke="#222"><line x1="568.7" y1="1045" x2="697.9" y2="1045"/><line x1="632.4" y1="1064" x2="664.7" y2="1064"/><line x1="608.6" y1="1085" x2="688.4" y2="1085"/></g>
<polygon points="633.1,1124 647.7,1117.5 662.4,1124 647.7,1130.5" fill="#3f8f88" stroke="#222" stroke-width=".8"/>
<polygon points="633.1,1144 647.7,1137.5 662.4,1144 647.7,1150.5" fill="#3a6fd0" stroke="#222" stroke-width=".8"/>
</svg>
</body></html>
